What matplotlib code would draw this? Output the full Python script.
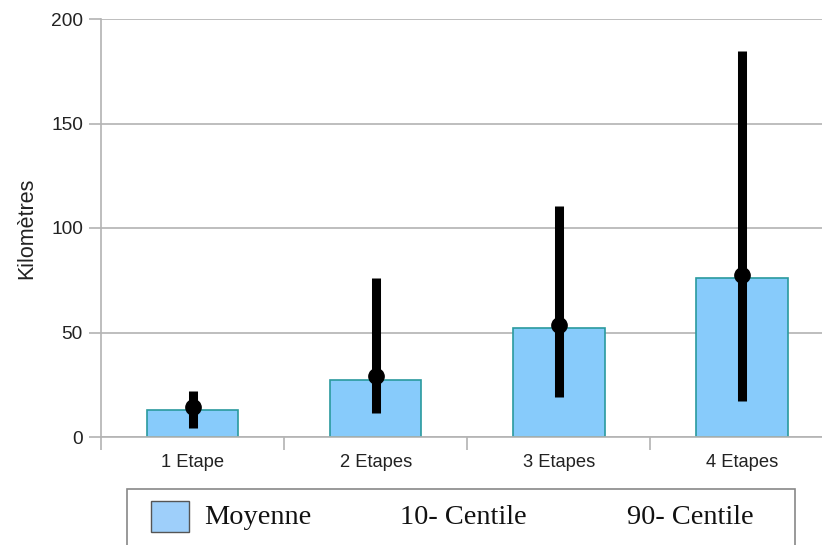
import matplotlib
matplotlib.use("Agg")
import matplotlib.pyplot as plt
from matplotlib.patches import Rectangle

categories = ["1 Etape", "2 Etapes", "3 Etapes", "4 Etapes"]
moyenne = [12.9, 27.5, 52.0, 76.3]
centre = [14.4, 29.0, 53.5, 77.5]
centile10 = [4.5, 11.5, 19.0, 17.0]
centile90 = [22.0, 76.0, 110.5, 184.5]
legend_labels = ["Moyenne", "10- Centile", "90- Centile"]

fig = plt.figure(figsize=(8.22, 5.45), dpi=100)
ax = fig.add_axes([101/822, 108/545, 732.5/822, 418/545])

x = list(range(len(categories)))
ax.bar(x, moyenne, width=0.5, color="#87CBFB", edgecolor="#2A9A9E", linewidth=1.2, zorder=2)
lower = [c - l for c, l in zip(centre, centile10)]
upper = [h - c for c, h in zip(centre, centile90)]
ax.errorbar(x, centre, yerr=[lower, upper], fmt="o", color="black", ecolor="black",
            elinewidth=6.5, markersize=11, capsize=0, zorder=3)

ax.set_xlim(-0.5, 3.5)
ax.set_ylim(0, 200)
ax.set_yticks([0, 50, 100, 150, 200])
ax.yaxis.grid(True, color="#b3b3b3", linewidth=1.2, zorder=0)
ax.set_axisbelow(True)
ax.set_xticks(x)
ax.set_xticklabels(categories)
ax.set_xticks([-0.5, 0.5, 1.5, 2.5], minor=True)
ax.tick_params(axis="x", which="major", length=0, pad=12, labelsize=13.2, colors="#222222")
ax.tick_params(axis="x", which="minor", length=9, width=1.2, color="#b3b3b3")
ax.tick_params(axis="y", length=9, width=1.2, color="#b3b3b3", labelsize=13.8, labelcolor="#222222", pad=4)
for s in ["top", "right"]:
    ax.spines[s].set_visible(False)
for s in ["left", "bottom"]:
    ax.spines[s].set_color("#b3b3b3")
    ax.spines[s].set_linewidth(1.2)
ax.set_ylabel("Kilomètres", fontsize=15.5, color="#222222", labelpad=10)

for t in ax.get_xticklabels() + ax.get_yticklabels():
    t.set_fontfamily("Liberation Sans")
ax.yaxis.label.set_fontfamily("Liberation Sans")

# legend box
fig.patches.append(Rectangle((127/822, -20/545), 668/822, (56+20)/545, transform=fig.transFigure,
                             facecolor="white", edgecolor="#888888", linewidth=1.2, figure=fig))
fig.patches.append(Rectangle((151/822, 13/545), 38/822, 31/545, transform=fig.transFigure,
                             facecolor="#9ECFFA", edgecolor="#555555", linewidth=1.0, figure=fig))
for lbl, xp in zip(legend_labels, [204, 400, 627]):
    fig.text(xp/822, 27/545, lbl, family="Liberation Serif", fontsize=20.4, va="center", color="#111111")

fig.savefig("out.png", dpi=100)
